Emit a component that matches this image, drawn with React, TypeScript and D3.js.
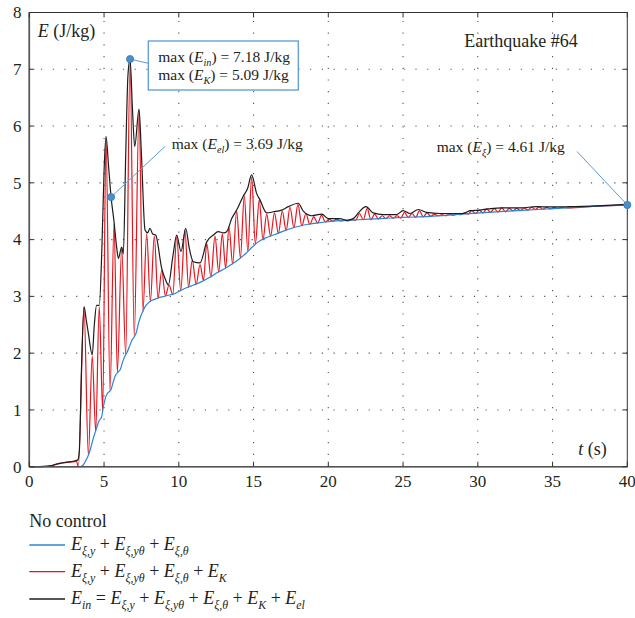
import React from "react";
import * as d3 from "d3";

// Dissipated energy E_xi = E_xi,y + E_xi,ytheta + E_xi,theta (J/kg)
const timeXi = [0, 3.4, 3.6, 3.8, 3.95, 4.1, 4.28, 4.4, 4.5, 4.65, 4.84, 4.95, 5.1, 5.25, 5.45, 5.6, 5.75, 5.95, 6.1, 6.25, 6.4, 6.55, 6.7, 6.85, 7.0, 7.15, 7.3, 7.45, 7.6, 7.75, 7.95, 8.2, 8.5, 8.86, 9.3, 9.75, 10.1, 10.4, 11.0, 11.53, 12.1, 12.64, 13.09, 13.5, 14.0, 14.5, 14.87, 15.32, 15.8, 16.43, 17.0, 17.55, 18.1, 18.66, 19.2, 19.78, 20.45, 22, 23.46, 25, 26.8, 28.5, 30.15, 32, 34, 36, 38, 40];
const energyXi = [0, 0, 0.03, 0.12, 0.2, 0.32, 0.5, 0.6, 0.68, 0.8, 0.88, 1.05, 1.22, 1.3, 1.35, 1.48, 1.6, 1.67, 1.72, 1.85, 1.95, 2.02, 2.12, 2.22, 2.28, 2.36, 2.52, 2.65, 2.74, 2.82, 2.88, 2.93, 2.96, 2.99, 3.02, 3.05, 3.1, 3.14, 3.2, 3.26, 3.34, 3.43, 3.49, 3.56, 3.65, 3.76, 3.86, 3.96, 4.03, 4.09, 4.15, 4.2, 4.24, 4.27, 4.29, 4.31, 4.33, 4.35, 4.37, 4.39, 4.41, 4.44, 4.47, 4.5, 4.53, 4.56, 4.59, 4.61];

// Dissipated + kinetic energy E_xi + E_K (J/kg)
const timeXiK = [0, 1.0, 1.5, 2.0, 2.5, 3.0, 3.15, 3.28, 3.66, 3.95, 4.21, 4.44, 4.68, 4.91, 5.13, 5.4, 5.67, 5.89, 6.18, 6.45, 6.74, 7.02, 7.34, 7.6, 7.85, 8.1, 8.36, 8.61, 8.86, 9.1, 9.35, 9.6, 9.86, 10.13, 10.41, 10.65, 10.9, 11.16, 11.42, 11.65, 11.87, 12.15, 12.42, 12.67, 12.91, 13.13, 13.36, 13.6, 13.87, 14.12, 14.38, 14.62, 14.87, 15.12, 15.38, 15.63, 15.88, 16.14, 16.4, 16.66, 16.92, 17.18, 17.44, 17.7, 17.97, 18.23, 18.5, 18.76, 19.03, 19.29, 19.55, 19.8, 20.05, 20.3, 20.56, 20.82, 21.07, 21.32, 21.58, 21.83, 22.08, 22.34, 22.6, 22.85, 23.1, 23.35, 23.6, 23.85, 24.1, 24.35, 24.6, 24.85, 25.1, 25.35, 25.6, 25.85, 26.1, 26.35, 26.6, 26.85, 27.1, 27.35, 27.6, 27.85, 28.1, 28.35, 28.6, 28.85, 29.1, 29.35, 29.6, 29.85, 30.1, 30.35, 30.6, 30.85, 31.1, 31.35, 31.6, 31.85, 32.1, 32.35, 32.6, 32.85, 33.1, 33.35, 33.6, 33.85, 34.1, 34.35, 34.6, 34.85, 35.1, 35.35, 35.6, 36, 38, 40];
const energyXiK = [0, 0.005, 0.02, 0.055, 0.075, 0.09, 0.1, 0.0, 2.8, 0.2, 1.95, 0.62, 2.82, 0.98, 5.78, 1.33, 4.28, 1.66, 3.85, 1.97, 7.15, 2.29, 6.26, 2.73, 4.1, 2.91, 4.06, 2.97, 3.46, 3.01, 3.2, 3.03, 4.05, 3.1, 4.17, 3.16, 3.64, 3.21, 3.56, 3.28, 3.93, 3.34, 4.06, 3.43, 4.1, 3.5, 4.22, 3.57, 4.5, 3.68, 4.77, 3.79, 5.1, 3.92, 4.7, 4.0, 4.45, 4.06, 4.47, 4.11, 4.5, 4.16, 4.57, 4.21, 4.62, 4.24, 4.46, 4.27, 4.4, 4.29, 4.43, 4.31, 4.36, 4.32, 4.36, 4.33, 4.34, 4.33, 4.35, 4.34, 4.46, 4.35, 4.55, 4.35, 4.45, 4.36, 4.42, 4.37, 4.42, 4.38, 4.42, 4.38, 4.48, 4.39, 4.46, 4.39, 4.51, 4.4, 4.47, 4.41, 4.45, 4.42, 4.44, 4.42, 4.45, 4.43, 4.45, 4.44, 4.47, 4.45, 4.51, 4.46, 4.52, 4.47, 4.54, 4.48, 4.55, 4.485, 4.56, 4.49, 4.55, 4.505, 4.55, 4.51, 4.56, 4.52, 4.57, 4.53, 4.575, 4.535, 4.57, 4.54, 4.57, 4.55, 4.57, 4.56, 4.59, 4.61];

// Input energy E_in = E_xi + E_K + E_el (J/kg)
const timeIn = [0, 0.8, 1.5, 2.0, 2.5, 3.0, 3.25, 3.35, 3.5, 3.66, 3.8, 3.95, 4.21, 4.35, 4.5, 4.68, 4.85, 5.0, 5.13, 5.3, 5.47, 5.67, 5.85, 5.96, 6.18, 6.29, 6.45, 6.6, 6.74, 6.9, 7.05, 7.34, 7.5, 7.74, 7.92, 8.07, 8.25, 8.45, 8.86, 9.12, 9.3, 9.6, 9.86, 10.15, 10.46, 10.7, 10.97, 11.42, 11.87, 12.31, 12.64, 13.0, 13.2, 13.54, 13.87, 14.3, 14.6, 14.87, 15.21, 15.43, 15.88, 16.32, 16.88, 17.33, 17.99, 18.33, 18.89, 19.56, 20.0, 20.78, 21.23, 21.67, 22.01, 22.52, 23.0, 23.68, 24.57, 25.0, 25.46, 26.02, 26.58, 27.47, 29.03, 29.48, 30.1, 30.7, 31.6, 32.9, 33.9, 34.9, 36.05, 38.3, 40];
const energyIn = [0, 0, 0.02, 0.06, 0.08, 0.1, 0.12, 0.3, 1.8, 2.82, 2.6, 2.35, 1.97, 2.5, 2.84, 2.84, 3.8, 5.2, 5.82, 5.3, 4.75, 4.31, 3.85, 3.67, 3.87, 3.75, 5.5, 6.9, 7.18, 6.3, 5.64, 6.3, 5.5, 4.17, 4.12, 4.2, 4.1, 4.08, 3.49, 3.29, 3.2, 3.7, 4.08, 3.79, 4.2, 3.85, 3.61, 3.59, 3.96, 4.08, 4.14, 4.12, 4.14, 4.37, 4.52, 4.76, 4.9, 5.14, 4.81, 4.7, 4.47, 4.49, 4.52, 4.58, 4.64, 4.5, 4.42, 4.45, 4.37, 4.37, 4.34, 4.37, 4.47, 4.58, 4.47, 4.44, 4.44, 4.51, 4.46, 4.53, 4.48, 4.46, 4.46, 4.51, 4.52, 4.54, 4.56, 4.56, 4.58, 4.575, 4.58, 4.6, 4.62];

const xTicks = [0, 5, 10, 15, 20, 25, 30, 35, 40];
const yTicks = [0, 1, 2, 3, 4, 5, 6, 7, 8];

// Marked maxima (time in s, energy in J/kg)
const peakIn = { t: 6.74, e: 7.18 };
const markEl = { t: 5.47, e: 4.75 };
const endXi = { t: 40, e: 4.61 };

const W = 635;
const H = 618;
const FONT = "'Liberation Serif', 'Times New Roman', Tinos, 'DejaVu Serif', 'Noto Serif', Times, serif";

const x = d3.scaleLinear().domain([0, 40]).range([29.3, 627.3]);
const y = d3.scaleLinear().domain([0, 8]).range([466.7, 12.5]);

const pairs = (ts: number[], vs: number[]): [number, number][] => ts.map((t, i) => [t, vs[i]]);

const line = d3
  .line<[number, number]>()
  .x((d) => x(d[0]))
  .y((d) => y(d[1]))
  .curve(d3.curveMonotoneX);

type Seg = { s: string; it?: boolean; sub?: boolean };

function MathText(props: { x: number; y: number; size: number; segs: Seg[]; anchor?: string }) {
  const { size, segs } = props;
  const subSize = size * 0.66;
  const shift = size * 0.28;
  let lowered = false;
  const spans = segs.map((g, i) => {
    let dy = 0;
    if (g.sub && !lowered) {
      dy = shift;
      lowered = true;
    } else if (!g.sub && lowered) {
      dy = -shift;
      lowered = false;
    }
    return (
      <tspan
        key={i}
        dy={dy}
        fontStyle={g.it ? "italic" : "normal"}
        fontSize={g.sub ? subSize : size}
      >
        {g.s}
      </tspan>
    );
  });
  return (
    <text x={props.x} y={props.y} style={{ fontFamily: FONT }} fontSize={size} fill="#231f20" textAnchor={props.anchor || "start"} xmlSpace="preserve">
      {spans}
    </text>
  );
}

const E = (sub: string): Seg[] => [{ s: "E", it: true }, { s: sub, it: true, sub: true }];
const plus: Seg = { s: " + " };

const legendBlue: Seg[] = [...E("ξ,y"), plus, ...E("ξ,yθ"), plus, ...E("ξ,θ")];
const legendRed: Seg[] = [...legendBlue, plus, ...E("K")];
const legendBlack: Seg[] = [...E("in"), { s: " = " }, ...legendRed, plus, ...E("el")];

const BLUE = "#2a84d6";
const RED = "#e8141c";
const BLACK = "#1c1c1c";
const NOTE = "#5a9bd4";
const DOT = "#4a8fcc";

export default function App() {
  const px0 = x(0);
  const px1 = x(40);
  const py0 = y(0);
  const py1 = y(8);
  const tick = 5;

  const pIn = [x(peakIn.t), y(peakIn.e)];
  const pEl = [x(markEl.t), y(markEl.e)];
  const pXi = [x(endXi.t), y(endXi.e)];

  return (
    <svg
      width={W}
      height={H}
      viewBox={`0 0 ${W} ${H}`}
      style={{ position: "absolute", left: 0, top: 0, background: "#fff", fontFamily: FONT }}
    >
      <rect x={0} y={0} width={W} height={H} fill="#fff" />

      {/* dotted grid */}
      {xTicks.slice(1, -1).map((t) => (
        <line key={"gx" + t} x1={x(t)} x2={x(t)} y1={py0} y2={py1} stroke="#555" strokeWidth={1.1} strokeDasharray="1.2 10.5" />
      ))}
      {yTicks.slice(1, -1).map((v) => (
        <line key={"gy" + v} x1={px0} x2={px1} y1={y(v)} y2={y(v)} stroke="#555" strokeWidth={1.1} strokeDasharray="1.2 10.5" />
      ))}

      {/* energy curves */}
      <path d={line(pairs(timeXiK, energyXiK)) || ""} fill="none" stroke={RED} strokeWidth={1.2} strokeLinejoin="round" />
      <path d={line(pairs(timeXi, energyXi)) || ""} fill="none" stroke={BLUE} strokeWidth={1.2} />
      <path d={line(pairs(timeIn, energyIn)) || ""} fill="none" stroke={BLACK} strokeWidth={1.2} strokeLinejoin="round" />

      {/* frame and inward ticks */}
      <rect x={px0} y={py1} width={px1 - px0} height={py0 - py1} fill="none" stroke="#333" strokeWidth={1} />
      <line x1={px0} x2={px1} y1={py0} y2={py0} stroke="#555" strokeWidth={1.6} />
      <line x1={px0} x2={px0} y1={py0} y2={py1} stroke="#555" strokeWidth={1.6} />
      {xTicks.map((t) => (
        <g key={"tx" + t} stroke="#333" strokeWidth={1}>
          <line x1={x(t)} x2={x(t)} y1={py0} y2={py0 - tick} />
          <line x1={x(t)} x2={x(t)} y1={py1} y2={py1 + tick} />
        </g>
      ))}
      {yTicks.map((v) => (
        <g key={"ty" + v} stroke="#333" strokeWidth={1}>
          <line x1={px0} x2={px0 + tick} y1={y(v)} y2={y(v)} />
          <line x1={px1} x2={px1 - tick} y1={y(v)} y2={y(v)} />
        </g>
      ))}

      {/* tick labels */}
      {xTicks.map((t) => (
        <text key={"lx" + t} x={x(t)} y={487} textAnchor="middle" style={{ fontFamily: FONT }} fontSize={17} fill="#231f20">
          {t}
        </text>
      ))}
      {yTicks.map((v) => (
        <text key={"ly" + v} x={21.5} y={y(v) + 5.8} textAnchor="end" style={{ fontFamily: FONT }} fontSize={17} fill="#231f20">
          {v}
        </text>
      ))}

      {/* axis titles */}
      <MathText x={37.7} y={37.3} size={18} segs={[{ s: "E", it: true }, { s: " (J/kg)" }]} />
      <MathText x={578.3} y={455} size={18} segs={[{ s: "t", it: true }, { s: " (s)" }]} />
      <text x={577.7} y={46.7} textAnchor="end" style={{ fontFamily: FONT }} fontSize={18} fill="#231f20">
        Earthquake #64
      </text>

      {/* annotations */}
      <line x1={pIn[0]} y1={pIn[1]} x2={148.3} y2={63.3} stroke={NOTE} strokeWidth={1} />
      <rect x={148.3} y={41} width={150} height={49} fill="#fff" stroke={NOTE} strokeWidth={1.3} />
      <MathText x={158.3} y={62} size={15.5} segs={[{ s: "max (" }, ...E("in"), { s: ") = 7.18 J/kg" }]} />
      <MathText x={158.3} y={79.5} size={15.5} segs={[{ s: "max (" }, ...E("K"), { s: ") = 5.09 J/kg" }]} />

      <line x1={pEl[0]} y1={pEl[1]} x2={165} y2={146.5} stroke={NOTE} strokeWidth={1} />
      <MathText x={171.7} y={148.5} size={15.5} segs={[{ s: "max (" }, ...E("el"), { s: ") = 3.69 J/kg" }]} />

      <line x1={577} y1={151.5} x2={pXi[0]} y2={pXi[1]} stroke={NOTE} strokeWidth={1} />
      <MathText x={436.7} y={151.5} size={15.5} segs={[{ s: "max (" }, ...E("ξ"), { s: ") = 4.61 J/kg" }]} />

      {[pIn, pEl, pXi].map((p, i) => (
        <circle key={"dot" + i} cx={p[0]} cy={p[1]} r={3.6} fill={DOT} stroke="#3a7bb8" strokeWidth={0.8} />
      ))}

      {/* legend */}
      <text x={29.3} y={527.3} style={{ fontFamily: FONT }} fontSize={18} fill="#231f20">
        No control
      </text>
      <line x1={29.3} x2={65} y1={545} y2={545} stroke={BLUE} strokeWidth={1.3} />
      <MathText x={71} y={550} size={18} segs={legendBlue} />
      <line x1={29.3} x2={65} y1={571.7} y2={571.7} stroke={RED} strokeWidth={1.3} />
      <MathText x={71} y={577} size={18} segs={legendRed} />
      <line x1={29.3} x2={65} y1={599} y2={599} stroke={BLACK} strokeWidth={1.3} />
      <MathText x={71} y={604} size={18} segs={legendBlack} />
    </svg>
  );
}
